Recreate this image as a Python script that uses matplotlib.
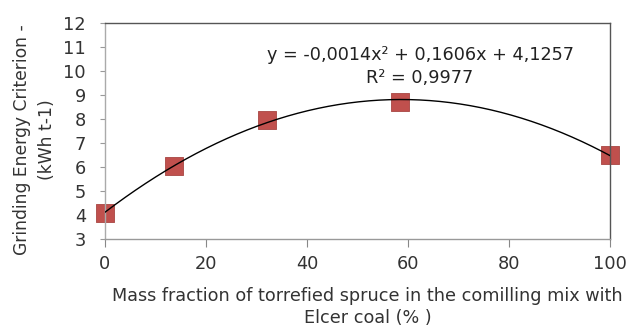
import matplotlib.pyplot as plt
import numpy as np

plt.rcParams['font.family'] = ['DejaVu Sans']

x = [0, 13.7, 32.0, 58.5, 100]
y = [4.08, 6.05, 7.97, 8.7, 6.5]

fig = plt.figure(figsize=(6.29, 3.3), dpi=100)
ax = fig.add_axes([105/629, 1 - 239/330, 505/629, 216/330])

# second order trendline through the points
coef = np.polyfit(x, y, 2)
xf = np.linspace(0, 100, 200)
ax.plot(xf, np.polyval(coef, xf), color="black", lw=1, zorder=3)
ax.scatter(x, y, marker="s", s=170, color="#c0504d", edgecolors="#a84542",
           linewidths=0.6, zorder=2, clip_on=False)

ax.set_xlim(0, 100)
ax.set_ylim(3, 12)
ax.set_xticks(range(0, 101, 20))
ax.set_yticks(range(3, 13))
ax.tick_params(labelsize=12.8, colors="#333333", width=0.8)
ax.tick_params(axis="x", length=5.5, pad=6, color="#888888")
ax.tick_params(axis="y", length=3.6, pad=10, color="#999999")
for s in ax.spines.values():
    s.set_color("#555555")
    s.set_linewidth(1)
ax.spines["left"].set_color("#aaaaaa")
ax.spines["bottom"].set_color("#999999")

ax.text(62.4, 10.67, "y = -0,0014x² + 0,1606x + 4,1257", ha="center",
        va="center", fontsize=12.7, color="#222222")
ax.text(62.4, 9.71, "R² = 0,9977", ha="center", va="center",
        fontsize=12.7, color="#222222")

ax.set_xlabel("Mass fraction of torrefied spruce in the comilling mix with\nElcer coal (% )",
              fontsize=12.7, color="#333333", linespacing=1.3, labelpad=10)
ax.set_ylabel("Grinding Energy Criterion -\n(kWh t-1)", fontsize=12.3,
              color="#333333", linespacing=1.5, labelpad=5.5)
ax.xaxis.label.set_x(0.52)
ax.yaxis.label.set_y(0.46)

fig.savefig("out.png", dpi=100)
